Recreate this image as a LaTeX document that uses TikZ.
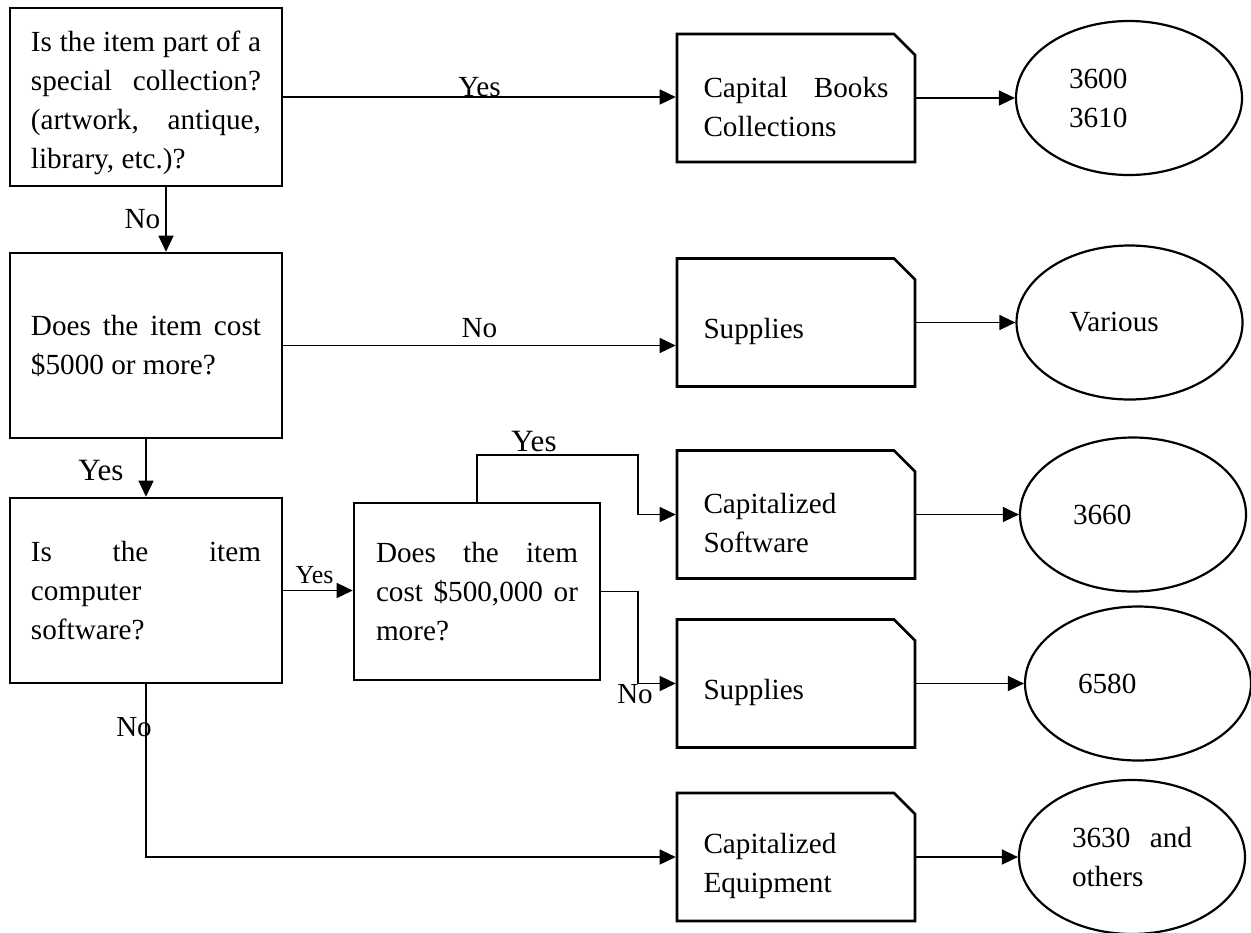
\documentclass[tikz,border=0pt]{standalone}
\usepackage{fontspec}
\setmainfont{Liberation Serif}
\usetikzlibrary{arrows.meta,shapes.misc,shapes.geometric}
\setlength{\parindent}{0pt}

\begin{document}
\begin{tikzpicture}[x=0.5pt,y=-0.5pt,
    font=\fontsize{14.6}{19.5}\selectfont,
    question/.style={draw,line width=1.3pt,minimum width=136pt,minimum height=92.5pt,
      text width=115pt,align=justify,inner sep=0pt},
    outcome/.style={draw,line width=1.3pt,chamfered rectangle,chamfered rectangle corners=north east,
      chamfered rectangle sep=5.25pt,minimum width=119pt,minimum height=64pt,
      text width=92.5pt,text height=19pt,align=justify,inner sep=0pt},
    account/.style={draw,line width=1.1pt,ellipse,minimum width=113pt,minimum height=77pt,
      text width=60pt,align=justify,inner sep=0pt},
    flow/.style={line width=0.7pt,-{Triangle[length=8pt,width=7.5pt]}},
    big/.style={font=\fontsize{15.5}{18}\selectfont,inner sep=0pt},
    small/.style={font=\fontsize{14.5}{17}\selectfont,inner sep=0pt}]
  \useasboundingbox (0,0) rectangle (1251,932);
  % questions
  \node[question,minimum height=89pt,text height=16pt] (q1) at (146,97) {Is the item part of a\linebreak special collection?\linebreak (artwork, antique,\linebreak library, etc.)?};
  \node[question] (q2) at (146,345.5) {Does the item cost\linebreak \$5000 or more?};
  \node[question] (q3) at (146,590.5) {Is the item\linebreak computer\newline software?};
  \node[question,minimum width=123pt,minimum height=88.5pt,text width=101pt] (q4) at (477,591.5) {Does the item\linebreak cost \$500,000 or\linebreak more?};
  % outcomes
  \node[outcome] (capbooks) at (796,98) {Capital Books\linebreak Collections};
  \node[outcome] (supplies1) at (796,322.5) {Supplies};
  \node[outcome] (capsoft) at (796,514.5) {Capitalized\newline Software};
  \node[outcome] (supplies2) at (796,683.5) {Supplies};
  \node[outcome] (capequip) at (796,857) {Capitalized\newline Equipment};
  % account numbers
  \node[account] (a1) at (1129,98) {3600\newline 3610};
  \node[account] (a2) at (1129.5,322.5) {Various};
  \node[account] (a3) at (1133,514.5) {3660};
  \node[account] (a4) at (1138,683.5) {6580};
  \node[account] (a5) at (1132,857) {3630 and\linebreak others};
  \coordinate (fork) at (638,455);

  \draw[flow] (q1.east) -- node[above,inner sep=0pt] {Yes} (q1.east -| capbooks.west);
  \draw[flow] ([xshift=10pt]q1.south) -- node[left,inner sep=2.5pt] {No} ([xshift=10pt]q2.north);
  \draw[flow] (q2.east) -- node[above] {No} (q2.east -| supplies1.west);
  \draw[flow] (q2.south) -- (q3.north);
  \node[big] (yes2) at (101,470.5) {Yes};
  \draw[flow] (q3.east) -- (q3.east -| q4.west);
  \node[small,font=\fontsize{13}{15}\selectfont] (yes3) at (314.5,575) {Yes};
  \draw[flow] (q4.north) |- (fork) |- (capsoft.west);
  \node[big] (yes4) at (534,441) {Yes};
  \draw[flow] (q4.east) -| (fork |- supplies2.west) -- (supplies2.west);
  \node[small] (no4) at (635,694) {No};
  \draw[flow] (q3.south) |- (capequip.west);
  \node[small] (no3) at (134,727) {No};
  \foreach \b/\e in {capbooks/a1,supplies1/a2,capsoft/a3,supplies2/a4,capequip/a5}
    \draw[flow] (\b.east) -- (\e.west);
\end{tikzpicture}
\end{document}
